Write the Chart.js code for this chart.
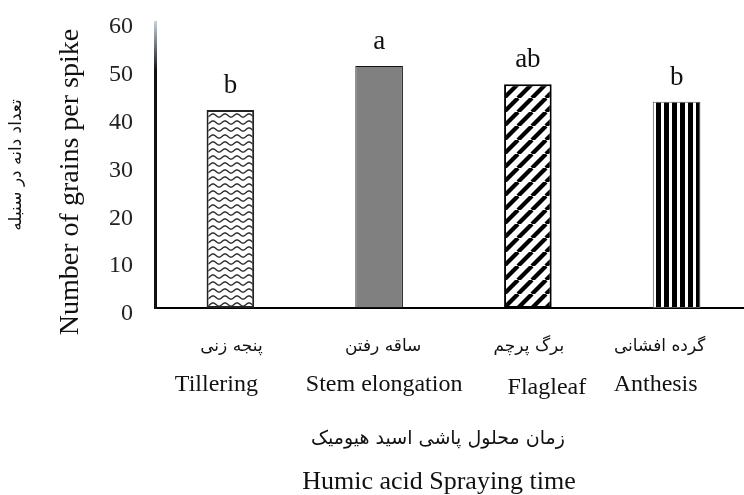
<!DOCTYPE html>
<html><head><meta charset="utf-8">
<script src="https://cdn.jsdelivr.net/npm/chart.js@4/dist/chart.umd.min.js"></script>
<style>
html,body{margin:0;padding:0;background:#fff;overflow:hidden;width:744px;height:495px;}
#wrap{position:absolute;left:0;top:0;width:760px;height:495px;}
</style></head>
<body><div id="wrap"><canvas id="c" width="760" height="495"></canvas></div>
<script>
// ---- data ----
const categoriesFa = ['پنجه زنی', 'ساقه رفتن', 'برگ پرچم', 'گرده افشانی'];
const categoriesEn = ['Tillering', 'Stem elongation', 'Flagleaf', 'Anthesis'];
const grainsPerSpike = [41.4, 50.6, 46.8, 43.1];
const significanceLetters = ['b', 'a', 'ab', 'b'];
const yTicks = [0, 10, 20, 30, 40, 50, 60];
const yTitleEn = 'Number of grains per spike';
const yTitleFa = 'تعداد دانه در سنبله';
const xTitleFa = 'زمان محلول پاشی اسید هیومیک';
const xTitleEn = 'Humic acid Spraying time';

// ---- patterns ----
function mk(w, h, draw) {
  const c = document.createElement('canvas'); c.width = w; c.height = h;
  const g = c.getContext('2d'); g.fillStyle = '#fff'; g.fillRect(0, 0, w, h); draw(g, w, h);
  return document.getElementById('c').getContext('2d').createPattern(c, 'repeat');
}
const wavePat = mk(12, 7, (g, w, h) => {
  g.strokeStyle = '#2a2a2a'; g.lineWidth = 1.4; g.beginPath();
  for (let x = -1; x <= w + 1; x += 0.5) {
    const y = 3.5 + 1.6 * Math.sin(2 * Math.PI * x / w);
    if (x === -1) g.moveTo(x, y); else g.lineTo(x, y);
  }
  g.stroke();
});
const diagPat = mk(14, 14, (g, w, h) => {
  g.strokeStyle = '#000'; g.lineWidth = 4.2;
  for (const o of [-w, 0, w]) { g.beginPath(); g.moveTo(o, h); g.lineTo(o + w, 0); g.stroke(); }
});
const vertPat = mk(8, 4, (g, w, h) => { g.fillStyle = '#000'; g.fillRect(0, 0, 5, h); });
const fills = [wavePat, '#808080', diagPat, vertPat];

const serif = '"Liberation Serif", "Times New Roman", serif';
const arabicFont = '"DejaVu Sans", sans-serif';

const overlay = {
  id: 'overlay',
  afterDatasetsDraw(chart) {
    const ctx = chart.ctx, ca = chart.chartArea, xs = chart.scales.x;
    const meta = chart.getDatasetMeta(0);
    ctx.save();
    // y axis line with gradient
    const gr = ctx.createLinearGradient(0, ca.top, 0, ca.top + 50);
    gr.addColorStop(0, '#c8d4e0'); gr.addColorStop(1, '#111');
    ctx.strokeStyle = gr; ctx.lineWidth = 3;
    ctx.beginPath(); ctx.moveTo(ca.left - 0.5, ca.top); ctx.lineTo(ca.left - 0.5, ca.bottom + 1); ctx.stroke();
    // letters
    ctx.fillStyle = '#111'; ctx.font = '27px ' + serif; ctx.textAlign = 'center'; ctx.textBaseline = 'alphabetic';
    meta.data.forEach((b, i) => ctx.fillText(significanceLetters[i], b.x, b.y - 17));
    // category labels
    const faOff = [1, 4, 1, -17], enOff = [-14, 5, 19, -21], enDy = [0, 0, 3, 0];
    categoriesFa.forEach((t, i) => {
      const x = xs.getPixelForValue(i);
      ctx.font = '17px ' + arabicFont; ctx.textBaseline = 'middle';
      ctx.fillText(t, x + faOff[i], 347);
      ctx.font = '24px ' + serif; ctx.textBaseline = 'alphabetic';
      ctx.fillText(categoriesEn[i], x + enOff[i], 391 + enDy[i]);
    });
    // x titles
    ctx.font = '19px ' + arabicFont; ctx.textBaseline = 'middle';
    ctx.fillText(xTitleFa, 438, 439);
    ctx.font = '26px ' + serif; ctx.textBaseline = 'alphabetic';
    ctx.fillText(xTitleEn, 439, 489);
    // y titles
    ctx.save(); ctx.translate(71, 182); ctx.rotate(-Math.PI / 2);
    ctx.font = '28px ' + serif; ctx.textBaseline = 'middle'; ctx.fillText(yTitleEn, 0, 0);
    ctx.restore();
    ctx.save(); ctx.translate(17, 165); ctx.rotate(-Math.PI / 2);
    ctx.font = '17px ' + arabicFont; ctx.textBaseline = 'middle'; ctx.fillText(yTitleFa, 0, 0);
    ctx.restore();
    ctx.restore();
  }
};

new Chart(document.getElementById('c'), {
  type: 'bar',
  data: {
    labels: categoriesEn,
    datasets: [{
      data: grainsPerSpike,
      backgroundColor: fills,
      borderColor: ['#222', '#111', '#000', '#555'],
      borderWidth: [2, 1, 2, 1],
      borderSkipped: false,
      barPercentage: 0.32,
      categoryPercentage: 1
    }]
  },
  options: {
    responsive: false,
    animation: false,
    events: [],
    layout: { padding: { left: 0, right: 9, top: 21, bottom: 187 } },
    plugins: { legend: { display: false }, tooltip: { enabled: false } },
    scales: {
      x: {
        grid: { display: false, drawTicks: false },
        border: { display: true, color: '#000', width: 2 },
        ticks: { display: false }
      },
      y: {
        min: 0, max: 60,
        afterFit: s => { s.width = 156; s.paddingTop = 0; s.paddingBottom = 0; },
        afterBuildTicks: s => { s.ticks = yTicks.map(v => ({ value: v })); },
        grid: { display: false, drawTicks: false },
        border: { display: false },
        ticks: { font: { family: serif, size: 24 }, color: '#222', padding: 23, labelOffset: 6 }
      }
    }
  },
  plugins: [overlay]
});
</script></body></html>
